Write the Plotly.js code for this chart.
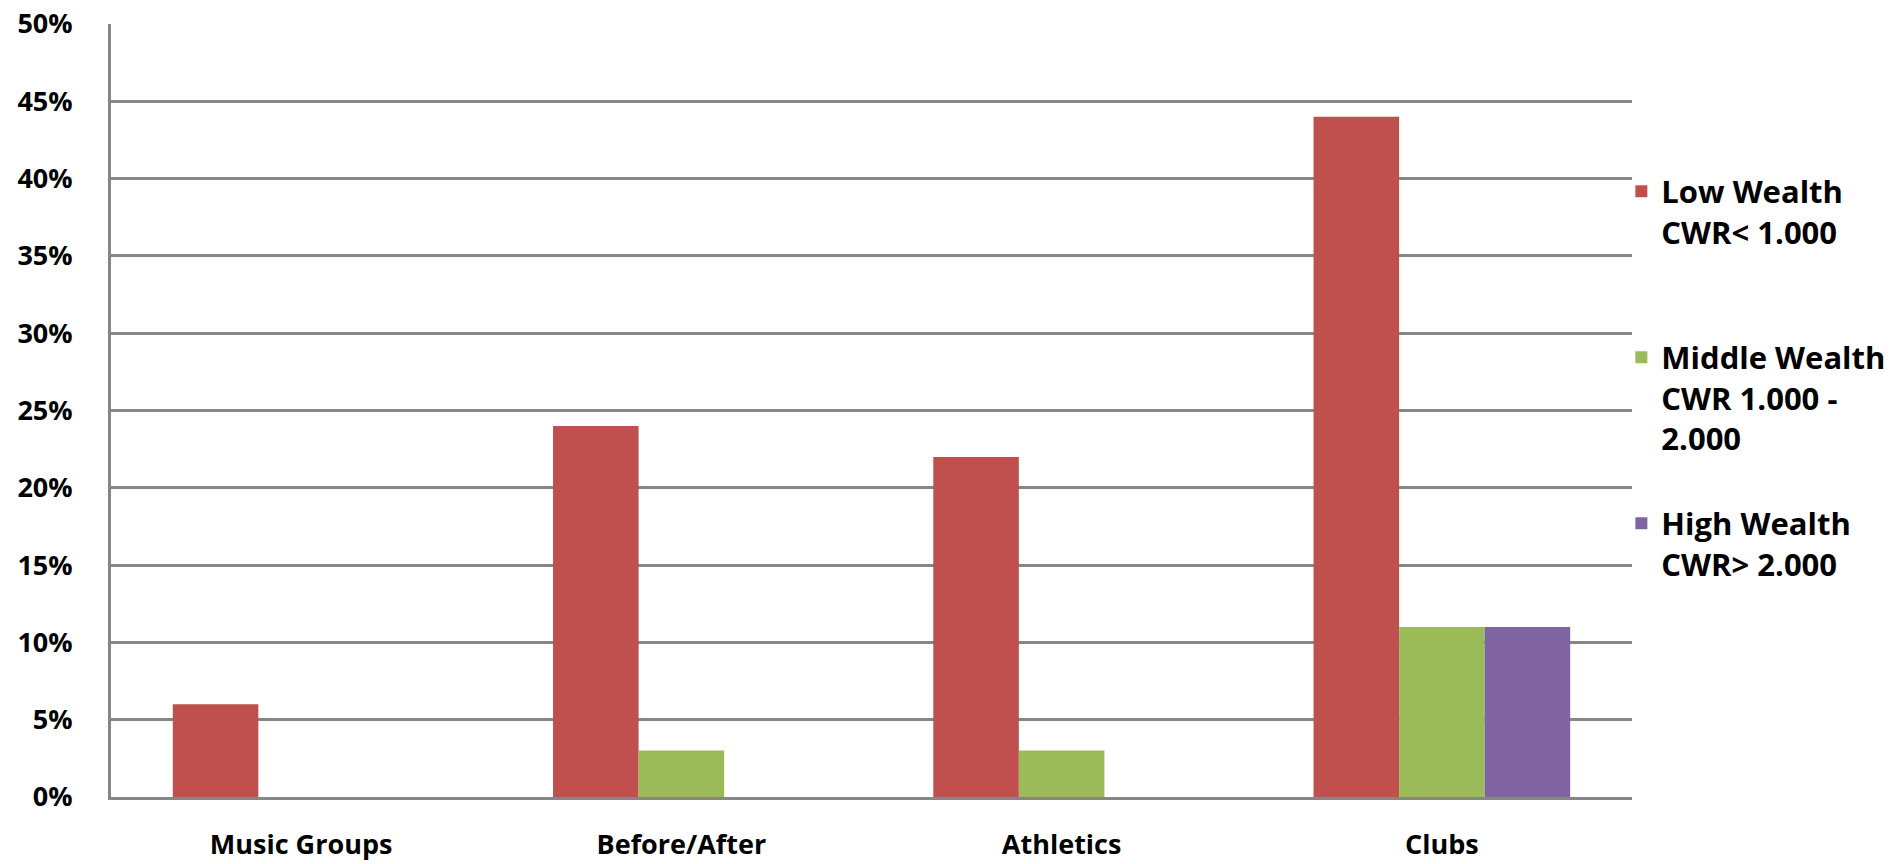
<!DOCTYPE html>
<html>
<head>
<meta charset="utf-8">
<script src="https://cdn.plot.ly/plotly-3.0.1.min.js"></script>
<style>html,body{margin:0;padding:0;background:#fff;}#chart{width:1904px;height:864px;}</style>
</head>
<body>
<div id="chart"></div>
<script>
const categories = ["Music Groups", "Before/After", "Athletics", "Clubs"];
const lowWealth = [6, 24, 22, 44];
const middleWealth = [null, 3, 3, 11];
const highWealth = [null, null, null, 11];
const seriesNames = ["Low Wealth<br>CWR&lt; 1.000<br> ", "Middle Wealth<br>CWR 1.000 -<br>2.000", "High Wealth<br>CWR&gt; 2.000"];
const seriesColors = ["#C0504D", "#9BBB59", "#8064A2"];
const yTicks = [0, 5, 10, 15, 20, 25, 30, 35, 40, 45, 50];
const yTickLabels = ["0%", "5%", "10%", "15%", "20%", "25%", "30%", "35%", "40%", "45%", "50%"];

const font = {family: "Open Sans, sans-serif", size: 27, color: "#000", weight: "bold"};
const vals = [lowWealth, middleWealth, highWealth];
const traces = vals.map((v, i) => ({
  type: "bar", x: categories, y: v, name: seriesNames[i],
  marker: {color: seriesColors[i]}, legendgroup: "g" + i
}));

const layout = {
  width: 1904, height: 864,
  margin: {l: 111, r: 272, t: 24, b: 67},
  paper_bgcolor: "#fff", plot_bgcolor: "#fff",
  font: font,
  barmode: "group", bargap: 0.325, bargroupgap: 0,
  showlegend: true,
  legend: {x: 0.993, xanchor: "left", y: 0.818, yanchor: "top", valign: "top",
           font: {family: "Open Sans, sans-serif", size: 31, color: "#000", weight: "bold"},
           tracegroupgap: 42, itemwidth: 30, bgcolor: "rgba(0,0,0,0)"},
  xaxis: {showgrid: false, showline: true, linecolor: "#868686", linewidth: 3,
          ticks: "", ticklabelstandoff: 22, tickfont: font, zeroline: false},
  yaxis: {range: [0, 50], tickmode: "array", tickvals: yTicks, ticktext: yTickLabels, showgrid: true,
          gridcolor: "#868686", gridwidth: 3, showline: true, linecolor: "#868686", linewidth: 3,
          ticks: "", ticklabelstandoff: 30, tickfont: font, zeroline: false}
};
Plotly.newPlot("chart", traces, layout, {displayModeBar: false, staticPlot: true});
</script>
</body>
</html>
